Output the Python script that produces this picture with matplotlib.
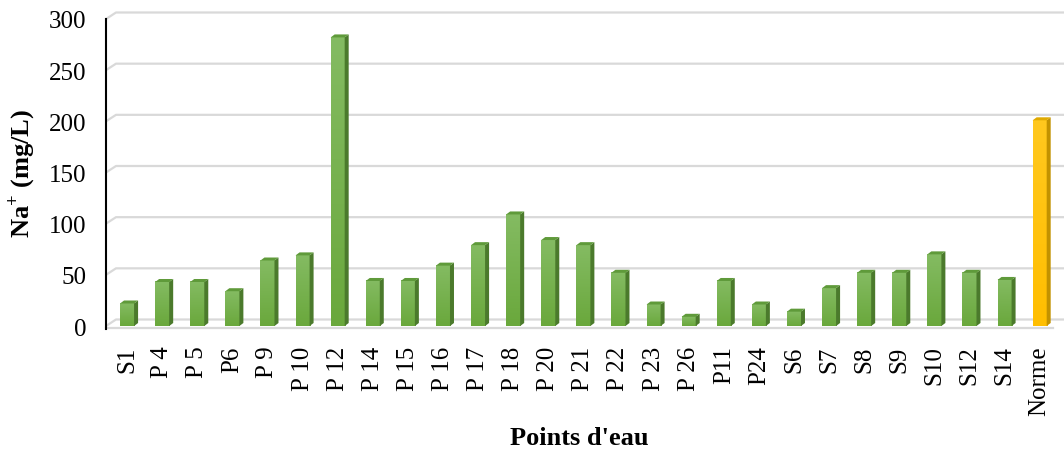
import matplotlib
matplotlib.use('Agg')
import matplotlib.pyplot as plt
import numpy as np
from matplotlib.patches import Polygon
from matplotlib.colors import LinearSegmentedColormap

plt.rcParams['font.family'] = ['Liberation Serif', 'DejaVu Serif']
plt.rcParams['mathtext.fontset'] = 'custom'
plt.rcParams['mathtext.bf'] = 'Liberation Serif:bold'
plt.rcParams['mathtext.rm'] = 'Liberation Serif:bold'

points = ['S1', 'P 4', 'P 5', 'P6', 'P 9', 'P 10', 'P 12', 'P 14', 'P 15', 'P 16',
          'P 17', 'P 18', 'P 20', 'P 21', 'P 22', 'P 23', 'P 26', 'P11', 'P24',
          'S6', 'S7', 'S8', 'S9', 'S10', 'S12', 'S14', 'Norme']
na = [22, 43, 43, 34, 64, 69, 282, 44, 44, 59,
      79, 109, 84, 79, 52, 21, 9, 44, 21,
      14, 37, 52, 52, 70, 52, 45, 201]
yticks = [0, 50, 100, 150, 200, 250, 300]

W, H = 1064, 460
fig = plt.figure(figsize=(W / 100, H / 100), dpi=100)
# front plane: x 106..1053 px, y 327 (0) .. 20 (300)
ax = fig.add_axes([106 / W, (H - 327) / H, 947 / W, 307 / H])
XL = (-0.6, 26.38)

# pixel -> data steps for the fake 3D depth
px_x = (XL[1] - XL[0]) / 947
px_y = 300 / 307

# back wall gridlines, slanted at the left end
back_dx, back_dy = 10 * px_x, 6.5 * px_y
for v in yticks:
    ax.plot([XL[0], XL[0] + back_dx, XL[0] + 1018 * px_x], [v, v + back_dy, v + back_dy],
            color='#d9d9d9', lw=1.6, clip_on=False, zorder=0, solid_capstyle='butt')
# floor front edge
ax.plot([XL[0], XL[1]], [-2 * px_y, -2 * px_y], color='#d9d9d9', lw=1.6, clip_on=False, zorder=0)

green = LinearSegmentedColormap.from_list('g', ['#6aa83c', '#84bb62'])
yellow = LinearSegmentedColormap.from_list('y', ['#ffbe00', '#ffc81e'])
grad = np.linspace(0, 1, 64).reshape(-1, 1)

bw = 0.4
ddx, ddy = 4 * px_x, 3 * px_y
for i, v in enumerate(na):
    if points[i] == 'Norme':
        cmap, side, top = yellow, '#c29200', '#e0aa00'
    else:
        cmap, side, top = green, '#4b7a2c', '#5f9a3a'
    x0 = i - bw / 2
    x1 = i + bw / 2
    ax.imshow(grad, cmap=cmap, origin='lower', extent=(x0, x1, 0, v),
              aspect='auto', zorder=3, interpolation='bilinear')
    ax.add_patch(Polygon([(x1, 0), (x1, v), (x1 + ddx, v + ddy), (x1 + ddx, ddy)],
                         closed=True, facecolor=side, edgecolor='none', zorder=3))
    ax.add_patch(Polygon([(x0, v), (x1, v), (x1 + ddx, v + ddy), (x0 + ddx, v + ddy)],
                         closed=True, facecolor=top, edgecolor='none', zorder=3))

ax.set_xlim(*XL)
ax.set_ylim(0, 300)

for s in ['top', 'right', 'bottom']:
    ax.spines[s].set_visible(False)
ax.spines['left'].set_color('black')
ax.spines['left'].set_linewidth(1.5)
ax.spines['left'].set_bounds(-3, 300)

ax.set_yticks(yticks)
ax.set_xticks(range(len(points)))
ax.set_xticklabels(points, rotation=90, va='top', ha='center')
ax.tick_params(axis='y', length=0, labelsize=18, pad=14)
ax.tick_params(axis='x', length=0, labelsize=18, pad=14)

ax.set_ylabel(r'Na$^{+}$ (mg/L)', fontsize=19, fontweight='bold')
ax.yaxis.set_label_coords(-0.073, 0.5)
ax.set_xlabel("Points d'eau", fontsize=19, fontweight='bold')
ax.xaxis.set_label_coords(0.5, -0.325)

fig.savefig('out.png', dpi=100)
